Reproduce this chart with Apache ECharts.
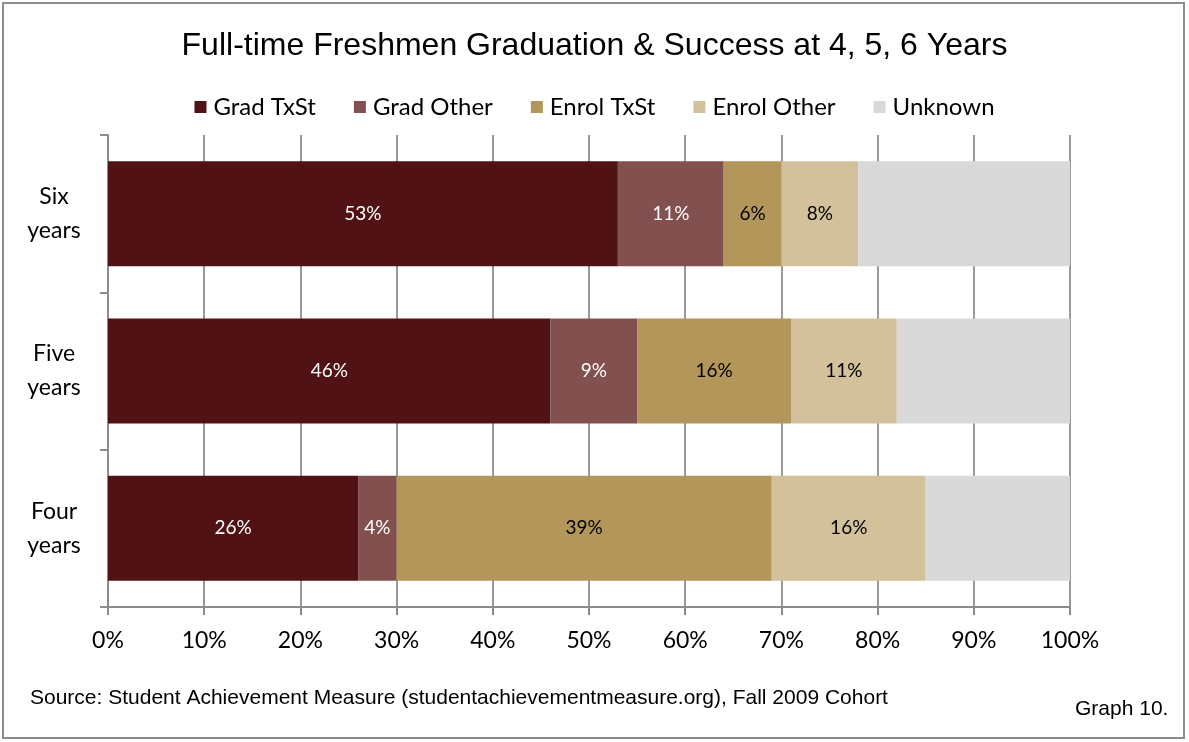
<!DOCTYPE html>
<html><head><meta charset="utf-8">
<script src="https://cdn.jsdelivr.net/npm/echarts@6/dist/echarts.min.js"></script>
<style>html,body{margin:0;padding:0;background:#fff}#c{width:1189px;height:742px}</style>
</head><body><div id="c"></div>
<script>
const categories = ['Six years', 'Five years', 'Four years'];
const seriesNames = ['Grad TxSt', 'Grad Other', 'Enrol TxSt', 'Enrol Other', 'Unknown'];
const gradTxSt = [53, 46, 26];
const gradOther = [11, 9, 4];
const enrolTxSt = [6, 16, 39];
const enrolOther = [8, 11, 16];
const unknown = [22, 18, 15];
const xTicks = [0, 10, 20, 30, 40, 50, 60, 70, 80, 90, 100];

const colors = ['#501214', '#82504F', '#B39659', '#D3C19C', '#D9D9D9'];
const labelColors = ['#ffffff', '#ffffff', '#000000', '#000000', null];
const values = [gradTxSt, gradOther, enrolTxSt, enrolOther, unknown];
const bodyFont = 'Lato, "Open Sans", sans-serif';

const chart = echarts.init(document.getElementById('c'));
chart.setOption({
  animation: false,
  title: {
    text: 'Full-time Freshmen Graduation & Success at 4, 5, 6 Years',
    left: 'center', top: 25,
    textStyle: { fontFamily: '"Liberation Sans", Arial, sans-serif', fontSize: 32, fontWeight: 'normal', color: '#000' }
  },
  legend: {
    top: 90, left: 'center',
    itemWidth: 12, itemHeight: 12, itemGap: 38,
    icon: 'rect',
    textStyle: { fontFamily: bodyFont, fontSize: 24, color: '#000', padding: [0, 0, 0, 2] },
    data: seriesNames
  },
  grid: { left: 108, right: 119, top: 135, bottom: 135, containLabel: false },
  xAxis: {
    type: 'value', min: xTicks[0], max: xTicks[xTicks.length - 1], interval: 10,
    axisLine: { show: true, lineStyle: { color: '#8c8c8c', width: 2 } },
    axisTick: { show: true, length: 8, lineStyle: { color: '#8c8c8c', width: 2 } },
    splitLine: { show: true, lineStyle: { color: '#999999', width: 2 } },
    axisLabel: { formatter: v => v + '%', margin: 22, fontFamily: bodyFont, fontSize: 23, color: '#000' }
  },
  yAxis: {
    type: 'category', data: categories, inverse: true,
    axisLine: { show: true, lineStyle: { color: '#8c8c8c', width: 2 } },
    axisTick: { show: true, length: 8, lineStyle: { color: '#8c8c8c', width: 2 } },
    axisLabel: {
      formatter: v => v.replace(' ', '\n'), align: 'center', margin: 54,
      lineHeight: 34, fontFamily: bodyFont, fontSize: 23, color: '#000'
    }
  },
  series: seriesNames.map((name, i) => ({
    name, type: 'bar', stack: 'total', barWidth: 105,
    data: values[i],
    itemStyle: { color: colors[i] },
    label: {
      show: labelColors[i] !== null, position: 'inside',
      formatter: p => p.value + '%',
      color: labelColors[i] || '#000', fontFamily: bodyFont, fontSize: 19
    }
  })),
  graphic: [
    { type: 'rect', shape: { x: 3, y: 3, width: 1181, height: 735 }, style: { fill: null, stroke: '#8c8c8c', lineWidth: 2 }, silent: true },
    { type: 'text', left: 30, top: 688, style: { text: 'Source: Student Achievement Measure (studentachievementmeasure.org), Fall 2009 Cohort', font: '21px "Liberation Sans", Arial, sans-serif', fill: '#000' } },
    { type: 'text', left: 1075, top: 699, style: { text: 'Graph 10.', font: '21px "Liberation Sans", Arial, sans-serif', fill: '#000' } }
  ]
});
</script></body></html>
